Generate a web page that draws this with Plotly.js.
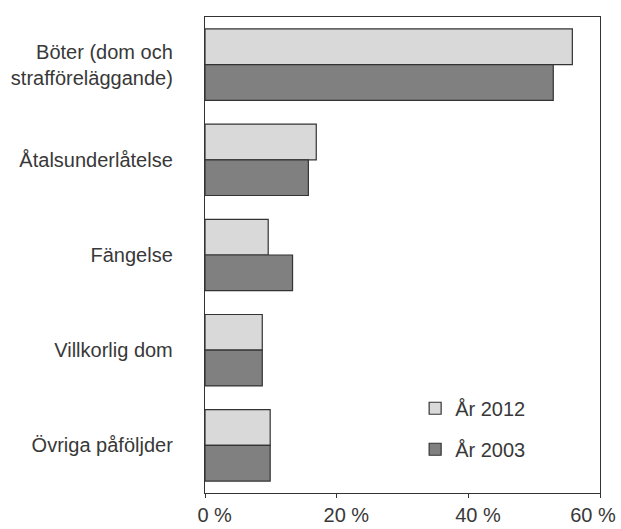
<!DOCTYPE html>
<html>
<head>
<meta charset="utf-8">
<script src="https://cdn.plot.ly/plotly-3.0.1.min.js"></script>
<style>html,body{margin:0;padding:0;background:#fff;}#chart{width:621px;height:529px;}</style>
</head>
<body>
<div id="chart"></div>
<script>
var categories = ["Böter (dom och<br>strafföreläggande)", "Åtalsunderlåtelse", "Fängelse", "Villkorlig dom", "Övriga påföljder"];
var values2012 = [55.8, 16.9, 9.6, 8.7, 9.9];
var values2003 = [52.9, 15.7, 13.3, 8.7, 9.9];
var seriesNames = ["År 2012", "År 2003"];
var tickVals = [0, 20, 40, 60];
var tickText = ["0 %", "20 %", "40 %", "60 %"];

// numbers sit under their ticks (suffix hangs right); the last label is kept inside the page
var pad = "\u00a0\u00a0\u00a0\u00a0\u00a0\u00a0";
var tickTextShown = tickText.map(function (t, i) { return i < tickText.length - 1 ? pad + t : t; });

var lineStyle = {color: "#333333", width: 1.2};
var traces = [
  {type: "bar", orientation: "h", name: seriesNames[0], y: categories, x: values2012,
   marker: {color: "#d9d9d9", line: lineStyle}, legendgroup: "a"},
  {type: "bar", orientation: "h", name: seriesNames[1], y: categories, x: values2003,
   marker: {color: "#808080", line: lineStyle}, legendgroup: "b"}
];
var fontFam = "Liberation Sans, Arial, sans-serif";
var layout = {
  width: 621, height: 529,
  margin: {l: 205, r: 21, t: 17, b: 36, pad: 0},
  paper_bgcolor: "#fff", plot_bgcolor: "#fff",
  font: {family: fontFam, size: 20, color: "#383838"},
  barmode: "group", bargap: 0.25, bargroupgap: 0,
  showlegend: true,
  legend: {x: 0.532, y: 0.135, xanchor: "left", yanchor: "middle", traceorder: "grouped",
           tracegroupgap: 12, bgcolor: "rgba(0,0,0,0)", font: {size: 20, color: "#383838"}},
  xaxis: {range: [0, 60], tickmode: "array", tickvals: tickVals, ticktext: tickTextShown,
          showgrid: false, zeroline: false,
          showline: true, linecolor: "#333", linewidth: 1.2, mirror: true,
          ticks: "outside", ticklen: 4, tickcolor: "#333", tickfont: {size: 20},
          ticklabelshift: -7, ticklabeloverflow: "allow", fixedrange: true},
  yaxis: {autorange: "reversed", type: "category", showgrid: false, zeroline: false,
          showline: true, linecolor: "#333", linewidth: 1.2, mirror: true,
          ticks: "", ticklabelstandoff: 27, tickfont: {size: 20}, fixedrange: true}
};
Plotly.newPlot("chart", traces, layout, {displayModeBar: false, staticPlot: true});
</script>
</body>
</html>
